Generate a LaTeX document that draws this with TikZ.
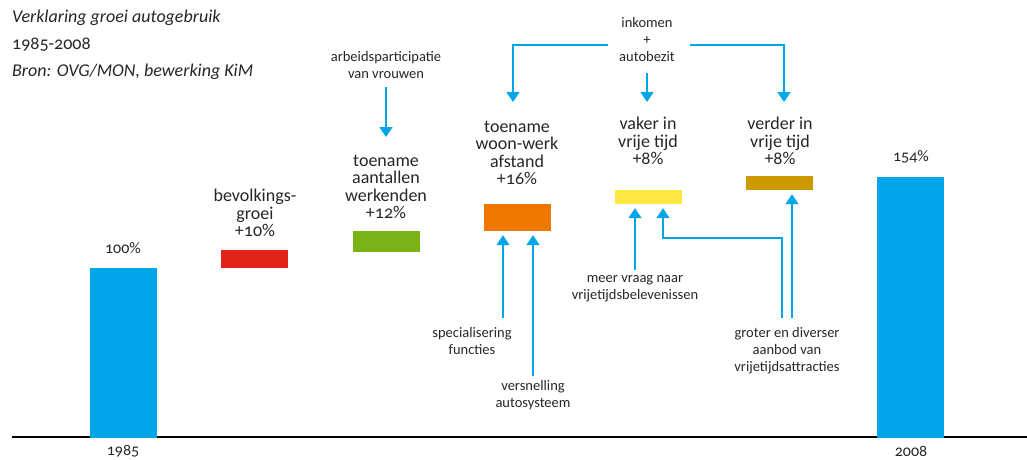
\documentclass[tikz,border=0pt]{standalone}
\usepackage{fontspec}
\setmainfont{Carlito}[Numbers=OldStyle]
\usetikzlibrary{arrows.meta}
\definecolor{kimblauw}{HTML}{00A6E8}
\definecolor{kimrood}{HTML}{E2231A}
\definecolor{kimgroen}{HTML}{7AB317}
\definecolor{kimoranje}{HTML}{EE7700}
\definecolor{kimgeel}{HTML}{FFE843}
\definecolor{kimgoud}{HTML}{CC9900}
\tikzset{
  bar/.style={inner sep=0pt, minimum width=67pt},
  lbl/.style={align=center, inner sep=0pt, text=black!85, font=\fontsize{18}{17.5}\selectfont},
  klein/.style={align=center, inner sep=0pt, text=black!85, font=\fontsize{14.5}{17}\selectfont},
  pijl/.style={draw=kimblauw, line width=1.6pt, -{Triangle[width=13pt,length=10pt]}},
}
\begin{document}
\begin{tikzpicture}[x=1pt,y=-1pt]
\useasboundingbox (0,0) rectangle (1027,460);
% titel
\node[anchor=west, inner sep=0pt, text=black!85, font=\fontsize{18}{27}\selectfont\itshape, align=left] (titel) at (12,45)
  {Verklaring groei autogebruik\\\upshape 1985-2008\\Bron: OVG/MON, bewerking KiM};
% as
\draw[line width=1.2pt] (12,437) -- (1027,437);
% balken
\node[bar, fill=kimblauw, minimum height=170pt] (b85) at (123.5,353) {};
\node[bar, fill=kimblauw, minimum height=261pt] (b08) at (910.5,307.5) {};
\node[bar, fill=kimrood, minimum height=18pt] (rood) at (254.5,259) {};
\node[bar, fill=kimgroen, minimum height=21pt] (groen) at (386.5,241.5) {};
\node[bar, fill=kimoranje, minimum height=27pt] (oranje) at (517.5,217.5) {};
\node[bar, fill=kimgeel, minimum height=14pt] (geel) at (648.5,197) {};
\node[bar, fill=kimgoud, minimum height=14pt] (goud) at (779.5,183) {};
% percentages en jaren
\node[lbl, font=\fontsize{16}{17}\selectfont] (p85) at (123,248) {100\%};
\node[lbl, font=\fontsize{16}{17}\selectfont] (p08) at (911,157) {154\%};
\node[lbl, font=\fontsize{16}{17}\selectfont] (j85) at (123,451) {1985};
\node[lbl, font=\fontsize{16}{17}\selectfont] (j08) at (911,451) {2008};
% categorieen
\node[lbl] (bev) at (255,213) {bevolkings-\\groei\\+10\%};
\node[lbl] (werk) at (386,187) {toename\\aantallen\\werkenden\\+12\%};
\node[lbl] (afst) at (517,153) {toename\\woon-werk\\afstand\\+16\%};
\node[lbl] (vaker) at (648,141) {vaker in\\vrije tijd\\+8\%};
\node[lbl] (verder) at (780,141) {verder in\\vrije tijd\\+8\%};
% oorzaken
\node[klein] (arbeid) at (386,65) {arbeidsparticipatie\\van vrouwen};
\node[klein] (inkomen) at (647,40) {inkomen\\+\\autobezit};
\node[klein] (spec) at (472,341) {specialisering\\functies};
\node[klein] (versn) at (533,395) {versnelling\\autosysteem};
\node[klein] (vraag) at (635,289) {meer vraag naar\\vrijetijdsbelevenissen};
\node[klein] (aanbod) at (787,351) {groter en diverser\\aanbod van\\vrijetijdsattracties};
\coordinate (s1) at (503,318);
\coordinate (a1) at (782,318);
\coordinate (a2) at (792,318);
\coordinate (knik) at (663,238);
\coordinate (links) at (608,45);
\coordinate (rechts) at (690,45);
% pijlen
\draw[pijl] (386,87) -- (386,137);
\draw[pijl] (647,73) -- (647,102);
\draw[pijl] (links) -| (513,102);
\draw[pijl] (rechts) -| (784,102);
\draw[pijl, shorten >=4pt] (s1) -- (s1 |- oranje.south);
\draw[pijl, shorten >=4pt] ([yshift=4pt]versn.north) -- (versn.north |- oranje.south);
\draw[pijl, shorten >=4pt] ([yshift=6pt]vraag.north) -- (vraag.north |- geel.south);
\draw[pijl, shorten >=4pt] (a1) |- (knik) -- (knik |- geel.south);
\draw[pijl, shorten >=4pt] (a2) -- (a2 |- goud.south);
\end{tikzpicture}
\end{document}
